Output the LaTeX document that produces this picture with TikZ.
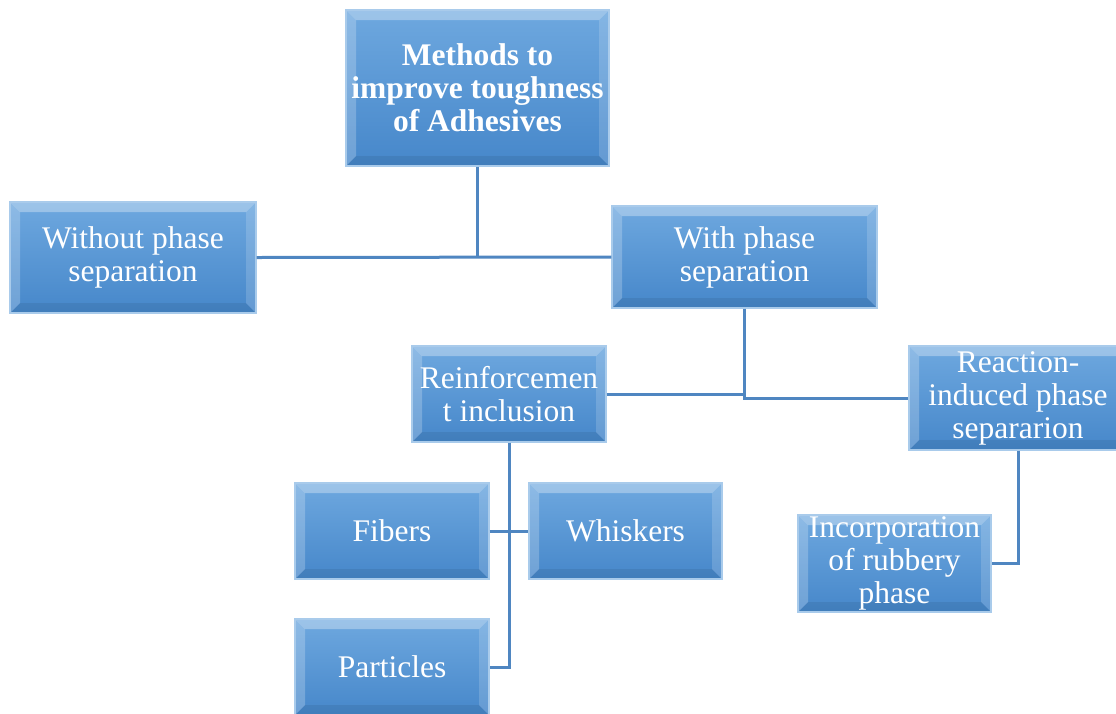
\documentclass[tikz,border=0pt]{standalone}
\usepackage{fontspec}
\setmainfont{Liberation Serif}
\definecolor{boxtop}{HTML}{6EA8DF}
\definecolor{boxbot}{HTML}{4687CA}
\definecolor{boxedge}{HTML}{A9CBEB}
\definecolor{linkcol}{HTML}{4F86C1}
\tikzset{
 box/.style={draw=boxedge, line width=1.2pt, top color=boxtop, bottom color=boxbot,
  text=white, align=center, inner sep=0pt, font=\fontsize{31.5}{33}\selectfont,
  path picture={
   \coordinate (NW) at (path picture bounding box.north west);
   \coordinate (NE) at (path picture bounding box.north east);
   \coordinate (SW) at (path picture bounding box.south west);
   \coordinate (SE) at (path picture bounding box.south east);
   \fill[white,opacity=.32] (NW) -- (NE) -- ([xshift=-10pt,yshift=-10pt]NE) -- ([xshift=10pt,yshift=-10pt]NW) -- cycle;
   \fill[white,opacity=.22] (NW) -- ([xshift=10pt,yshift=-10pt]NW) -- ([xshift=10pt,yshift=10pt]SW) -- (SW) -- cycle;
   \fill[white,opacity=.16] (NE) -- (SE) -- ([xshift=-10pt,yshift=10pt]SE) -- ([xshift=-10pt,yshift=-10pt]NE) -- cycle;
   \fill[black,opacity=.07] (SW) -- (SE) -- ([xshift=-10pt,yshift=10pt]SE) -- ([xshift=10pt,yshift=10pt]SW) -- cycle;
  }},
 link/.style={draw=linkcol, line width=3pt}
}
\begin{document}
\begin{tikzpicture}[x=1pt,y=-1pt]
\useasboundingbox (0,0) rectangle (1116,713);
\node[box, minimum width=263pt, minimum height=156pt, font=\fontsize{31.5}{33}\selectfont\bfseries] (top) at (477.5,88) {Methods to\\improve toughness\\of Adhesives};
\node[box, minimum width=246pt, minimum height=111pt] (without) at (133,257.5) {Without phase\\separation};
\node[box, minimum width=265pt, minimum height=102pt] (with) at (744.5,257) {With phase\\separation};
\node[box, minimum width=194pt, minimum height=96pt] (rein) at (509,394) {Reinforcemen\\t inclusion};
\node[box, minimum width=218pt, minimum height=104pt] (reac) at (1018,398) {Reaction-\\induced phase\\separarion};
\node[box, minimum width=194pt, minimum height=96pt] (fib) at (392,531) {Fibers};
\node[box, minimum width=193pt, minimum height=96pt] (whi) at (625.5,531) {Whiskers};
\node[box, minimum width=194pt, minimum height=96pt] (part) at (392,667) {Particles};
\node[box, minimum width=193pt, minimum height=97pt] (inc) at (894.5,563.5) {Incorporation\\of rubbery\\phase};
\draw[link] (without.east) -- (with.west);
\draw[link] (top.south) -- (top.south |- without.east);
\draw[link] (with.south) |- (reac.west);
\draw[link] (rein.east) -| (with.south);
\draw[link] (rein.south) |- (part.east);
\draw[link] (fib.east) -- (whi.west);
\draw[link] (reac.south) |- (inc.east);
\end{tikzpicture}
\end{document}
